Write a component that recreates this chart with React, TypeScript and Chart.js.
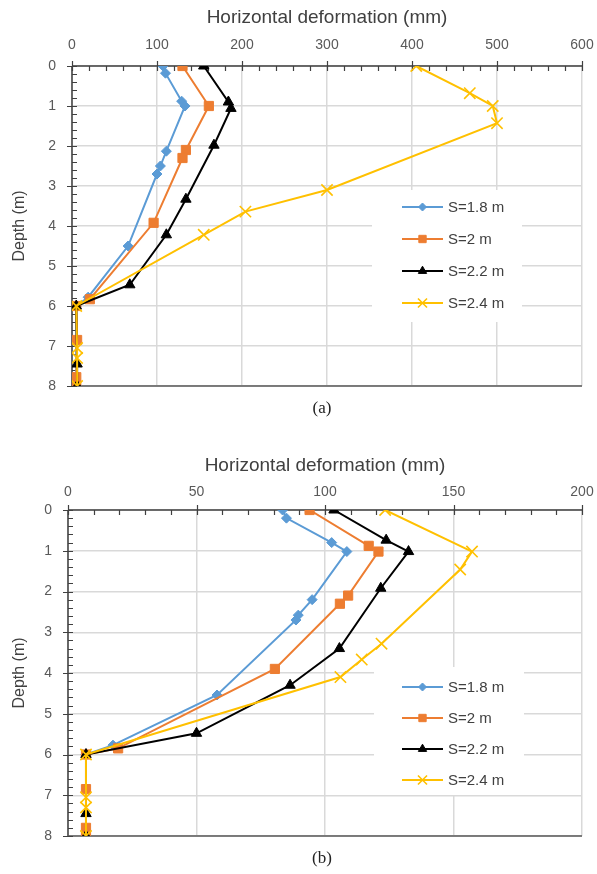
import React, { useEffect, useRef } from "react";
import { Chart, registerables } from "chart.js";
import { drawPoint } from "chart.js/helpers";

Chart.register(...registerables);

const seriesLabels = ["S=1.8 m", "S=2 m", "S=2.2 m", "S=2.4 m"];
const seriesColors = ["#5B9BD5", "#ED7D31", "#000000", "#FFC000"];
const seriesStyles = ["rectRot", "rect", "triangle", "crossRot"];
const seriesRadius = [5, 6.5, 6, 8];

// ---- Chart (a) ----
const depthA18 = [0, 0.18, 0.88, 1.0, 2.13, 2.5, 2.7, 4.5, 5.78, 6.0, 8.0];
const defA18 = [107, 110, 129, 133, 111, 104, 100, 66, 19, 5, 5];
const depthA20 = [0, 1.0, 2.1, 2.3, 3.92, 5.83, 6.0, 6.85, 7.78, 8.0];
const defA20 = [130, 161, 134, 130, 96, 21, 5, 6, 5, 5];
const depthA22 = [0, 0.9, 1.06, 1.98, 3.33, 4.22, 5.47, 6.0, 7.45, 8.0];
const defA22 = [155, 184, 187, 167, 134, 111, 68, 5, 6, 6];
const depthA24 = [0, 0.68, 1.0, 1.43, 3.1, 3.64, 4.22, 6.0, 7.05, 7.3, 8.0];
const defA24 = [405, 468, 495, 500, 300, 204, 155, 5, 6, 6, 6];
const xTicksA = { max: 600, major: 100, minor: 20 };

// ---- Chart (b) ----
const depthB18 = [0, 0.2, 0.8, 1.02, 2.2, 2.58, 2.7, 4.54, 5.77, 6.0, 8.0];
const defB18 = [83.5, 85, 102.6, 108.5, 95, 89.6, 88.7, 58, 17.5, 7, 7];
const depthB20 = [0, 0.88, 1.02, 2.1, 2.3, 3.9, 5.85, 6.0, 6.85, 7.8, 8.0];
const defB20 = [94, 117, 120.8, 109, 105.8, 80.5, 19.5, 7, 7, 7, 7];
const depthB22 = [0, 0.74, 1.02, 1.92, 3.4, 4.3, 5.48, 6.0, 7.45, 8.0];
const defB22 = [103.5, 123.8, 132.5, 121.7, 105.6, 86.4, 50, 7, 7, 7];
const depthB24 = [0, 1.02, 1.46, 3.28, 3.67, 4.1, 6.0, 7.05, 7.3, 8.0];
const defB24 = [123.4, 157.2, 152.6, 122, 114.3, 106, 7, 7, 7, 7];
const xTicksB = { max: 200, major: 50, minor: 10 };

const depthMax = 8;
const xTitle = "Horizontal deformation (mm)";
const yTitle = "Depth (m)";

const FONT = '"Liberation Sans", Arial, Helvetica, sans-serif';

const excelAxes = {
  id: "excelAxes",
  beforeDatasetsDraw(chart: any, _args: any, opts: any) {
    const { ctx, chartArea: ca, scales } = chart;
    const x = scales.x;
    const y = scales.y;
    ctx.save();
    ctx.strokeStyle = "#404040";
    ctx.lineWidth = 1.5;
    ctx.beginPath();
    ctx.moveTo(ca.left, ca.top);
    ctx.lineTo(ca.right, ca.top);
    ctx.moveTo(ca.left, ca.top);
    ctx.lineTo(ca.left, ca.bottom);
    ctx.stroke();
    ctx.strokeStyle = "#595959";
    ctx.beginPath();
    ctx.moveTo(ca.left, ca.bottom);
    ctx.lineTo(ca.right, ca.bottom);
    ctx.stroke();
    ctx.strokeStyle = "#404040";
    ctx.lineWidth = 1.2;
    ctx.beginPath();
    const nx = Math.round(opts.xMax / opts.xMinor);
    for (let i = 0; i <= nx; i++) {
      const v = i * opts.xMinor;
      const px = Math.round(x.getPixelForValue(v)) + 0.5;
      const isMajor = Math.abs(v / opts.xMajor - Math.round(v / opts.xMajor)) < 1e-6;
      ctx.moveTo(px, isMajor ? ca.top - 5 : ca.top);
      ctx.lineTo(px, ca.top + 5);
    }
    const ny = Math.round(opts.yMax / opts.yMinor);
    for (let i = 0; i <= ny; i++) {
      const v = i * opts.yMinor;
      const py = Math.round(y.getPixelForValue(v)) + 0.5;
      const isMajor = Math.abs(v / opts.yMajor - Math.round(v / opts.yMajor)) < 1e-6;
      ctx.moveTo(isMajor ? ca.left - 5 : ca.left, py);
      ctx.lineTo(ca.left + 5, py);
    }
    ctx.stroke();
    ctx.restore();
  },
};

const excelLegend = {
  id: "excelLegend",
  afterDatasetsDraw(chart: any, _args: any, opts: any) {
    const { ctx } = chart;
    ctx.save();
    ctx.fillStyle = "#ffffff";
    ctx.fillRect(opts.boxX, opts.boxY, opts.boxW, opts.boxH);
    chart.data.datasets.forEach((ds: any, i: number) => {
      const yy = opts.y0 + i * opts.dy;
      ctx.strokeStyle = ds.borderColor;
      ctx.lineWidth = 2;
      ctx.beginPath();
      ctx.moveTo(opts.x0, yy);
      ctx.lineTo(opts.x0 + opts.lineW, yy);
      ctx.stroke();
      ctx.fillStyle = ds.pointBackgroundColor;
      ctx.strokeStyle = ds.pointBorderColor;
      ctx.lineWidth = ds.pointBorderWidth;
      drawPoint(ctx, { pointStyle: ds.pointStyle, radius: ds.pointRadius * 0.8, rotation: 0, borderWidth: ds.pointBorderWidth }, opts.x0 + opts.lineW / 2, yy);
      ctx.fillStyle = "#404040";
      ctx.font = `15px ${FONT}`;
      ctx.textAlign = "left";
      ctx.textBaseline = "middle";
      ctx.fillText(ds.label, opts.x0 + opts.lineW + 5, yy + 1);
    });
    ctx.restore();
  },
};

function makeDatasets(depths: number[][], defs: number[][]) {
  return depths.map((dArr, i) => ({
    label: seriesLabels[i],
    data: dArr.map((d, j) => ({ x: defs[i][j], y: d })),
    showLine: true,
    borderColor: seriesColors[i],
    backgroundColor: seriesColors[i],
    pointBackgroundColor: seriesColors[i],
    pointBorderColor: seriesColors[i],
    pointBorderWidth: i === 3 ? 1.6 : 1,
    borderWidth: 2,
    pointStyle: seriesStyles[i],
    pointRadius: seriesRadius[i],
    order: 3 - i,
    tension: 0,
  }));
}

function ChartPanel(props: {
  top: number;
  height: number;
  axisH: number;
  depths: number[][];
  defs: number[][];
  xt: { max: number; major: number; minor: number };
  legend: any;
}) {
  const ref = useRef<HTMLCanvasElement | null>(null);
  useEffect(() => {
    if (!ref.current) return;
    const tickFont = { family: FONT, size: 14 };
    const chart = new Chart(ref.current, {
      type: "scatter",
      data: { datasets: makeDatasets(props.depths, props.defs) as any },
      options: {
        animation: false,
        responsive: false,
        maintainAspectRatio: false,
        devicePixelRatio: 1,
        events: [],
        layout: { padding: { top: 0, left: 0, right: 15, bottom: 14 } },
        plugins: {
          legend: { display: false },
          tooltip: { enabled: false },
          excelAxes: {
            xMax: props.xt.max,
            xMajor: props.xt.major,
            xMinor: props.xt.minor,
            yMax: depthMax,
            yMajor: 1,
            yMinor: 0.2,
          },
          excelLegend: props.legend,
        } as any,
        scales: {
          x: {
            type: "linear",
            position: "top",
            min: 0,
            max: props.xt.max,
            afterFit: (s: any) => {
              s.height = props.axisH;
              s.paddingLeft = 0;
              s.paddingRight = 0;
            },
            ticks: { stepSize: props.xt.major, padding: props.legend.tickPad, font: tickFont, color: "#595959" },
            grid: { color: "#d9d9d9", lineWidth: 1.5, drawTicks: false },
            border: { display: false },
            title: {
              display: true,
              text: xTitle,
              font: { family: FONT, size: 19 },
              color: "#404040",
              padding: { top: 6, bottom: 0 },
            },
          },
          y: {
            type: "linear",
            reverse: true,
            min: 0,
            max: depthMax,
            afterFit: (s: any) => {
              s.width = props.legend.plotLeft;
              s.paddingTop = 0;
              s.paddingBottom = 0;
            },
            ticks: { stepSize: 1, padding: 16, font: tickFont, color: "#595959" },
            grid: { color: "#d9d9d9", lineWidth: 1.5, drawTicks: false },
            border: { display: false },
            title: {
              display: true,
              text: yTitle,
              font: { family: FONT, size: 16 },
              color: "#404040",
              padding: { top: 10, bottom: 0 },
            },
          },
        },
      },
      plugins: [excelAxes, excelLegend],
    });
    return () => chart.destroy();
  }, []);
  return (
    <canvas
      ref={ref}
      width={597}
      height={props.height}
      style={{ position: "absolute", left: 0, top: props.top, width: 597, height: props.height, display: "block" }}
    />
  );
}

export default function App() {
  useEffect(() => {
    document.body.style.margin = "0";
  }, []);
  const capStyle: React.CSSProperties = {
    position: "absolute",
    left: 0,
    width: 644,
    textAlign: "center",
    fontFamily: '"Liberation Serif", "Times New Roman", serif',
    fontSize: 17,
    color: "#222",
    lineHeight: "20px",
  };
  const bTop = 448;
  return (
    <div style={{ position: "relative", width: 597, height: 874, background: "#fff", overflow: "hidden" }}>
      <ChartPanel
        top={0}
        height={400}
        axisH={66}
        depths={[depthA18, depthA20, depthA22, depthA24]}
        defs={[defA18, defA20, defA22, defA24]}
        xt={xTicksA}
        legend={{ plotLeft: 72, tickPad: 12, x0: 402, lineW: 41, y0: 207, dy: 32, boxX: 372, boxY: 190, boxW: 150, boxH: 132 }}
      />
      <div style={{ ...capStyle, top: 398 }}>(a)</div>
      <ChartPanel
        top={bTop}
        height={402}
        axisH={62}
        depths={[depthB18, depthB20, depthB22, depthB24]}
        defs={[defB18, defB20, defB22, defB24]}
        xt={xTicksB}
        legend={{ plotLeft: 68, tickPad: 9, x0: 402, lineW: 41, y0: 687 - bTop, dy: 31, boxX: 374, boxY: 667 - bTop, boxW: 150, boxH: 128 }}
      />
      <div style={{ ...capStyle, top: 848 }}>(b)</div>
    </div>
  );
}
